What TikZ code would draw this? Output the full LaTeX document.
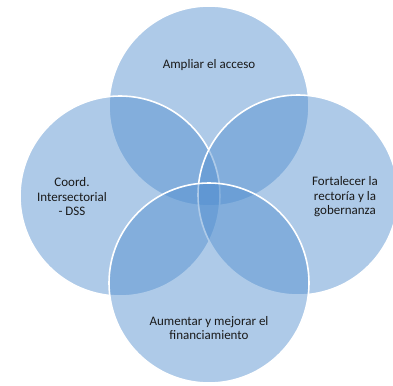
\documentclass[tikz,border=0pt]{standalone}
\usepackage{fontspec}
\setmainfont{Carlito}
\definecolor{vfill}{RGB}{83,144,208}
\definecolor{vtext}{RGB}{26,26,26}
\begin{document}
\begin{tikzpicture}[x=1pt,y=-1pt,
  venn/.style={circle, minimum size=200pt, inner sep=0pt, fill=vfill, fill opacity=0.47, draw=white, draw opacity=1, line width=1.6pt},
  lbl/.style={text=vtext, font=\fontsize{13}{14.5}\selectfont, align=center, text opacity=1}]
\useasboundingbox (0,0) rectangle (393,385);
\fill[white] (0,0) rectangle (393,385);
\node[venn] (ctop) at (209,106) {};
\node[venn] (cleft) at (120,196) {};
\node[venn] (cright) at (298,195) {};
\node[venn] (cbot) at (209,283) {};
\node[lbl] (ttop) at (209,65) {Ampliar el acceso};
\node[lbl] (tleft) at (72,197) {Coord.\\Intersectorial\\- DSS};
\node[lbl] (tright) at (345,197) {Fortalecer la\\rectoría y la\\gobernanza};
\node[lbl] (tbot) at (209,328) {Aumentar y mejorar el\\financiamiento};
\end{tikzpicture}
\end{document}
